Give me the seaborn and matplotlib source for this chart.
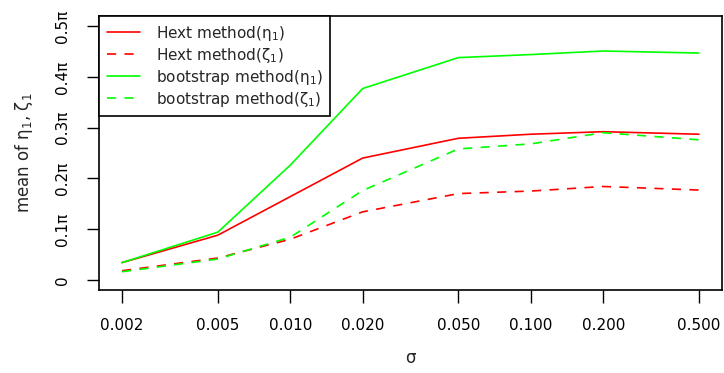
import matplotlib
matplotlib.use("Agg")
import matplotlib.pyplot as plt
import seaborn as sns
import numpy as np
import pandas as pd

# sigma values (x, log scale)
sigma = [0.002, 0.005, 0.010, 0.020, 0.050, 0.100, 0.200, 0.500]
sigma_labels = ["0.002", "0.005", "0.010", "0.020", "0.050", "0.100", "0.200", "0.500"]

# means, in units of pi
hext_eta = [0.034, 0.088, 0.164, 0.240, 0.279, 0.287, 0.292, 0.287]
hext_zeta = [0.018, 0.043, 0.080, 0.134, 0.170, 0.175, 0.184, 0.177]
boot_eta = [0.034, 0.094, 0.226, 0.377, 0.438, 0.444, 0.451, 0.447]
boot_zeta = [0.016, 0.041, 0.084, 0.176, 0.258, 0.268, 0.290, 0.276]

y_ticks = [0, 0.1, 0.2, 0.3, 0.4, 0.5]
y_labels = ["0", "0.1π", "0.2π", "0.3π", "0.4π", "0.5π"]

sns.set_style("white")
plt.rcParams["font.family"] = ["DejaVu Sans"]
plt.rcParams["mathtext.fontset"] = "dejavusans"
plt.rcParams["mathtext.default"] = "regular"

fig = plt.figure(figsize=(7.24, 3.73), dpi=100)
ax = fig.add_axes([99 / 724, 83 / 373, 623 / 724, 274 / 373])

df = pd.DataFrame({"sigma": sigma, "hext_eta": hext_eta, "hext_zeta": hext_zeta,
                   "boot_eta": boot_eta, "boot_zeta": boot_zeta})

series = [
    ("hext_eta", "Hext method($\\eta_1$)", "#ff0000", "-"),
    ("hext_zeta", "Hext method($\\zeta_1$)", "#ff0000", "--"),
    ("boot_eta", "bootstrap method($\\eta_1$)", "#00ff00", "-"),
    ("boot_zeta", "bootstrap method($\\zeta_1$)", "#00ff00", "--"),
]
for col, label, color, ls in series:
    sns.lineplot(data=df, x="sigma", y=col, ax=ax, color=color, label=label,
                 linewidth=1.2)
    if ls == "--":
        ax.lines[-1].set_dashes((5.5, 5))

ax.set_xscale("log")
lo, hi = np.log10(sigma[0]), np.log10(sigma[-1])
span = hi - lo
ax.set_xlim(10 ** (lo - 0.04 * span), 10 ** (hi + 0.04 * span))
ax.set_ylim(-0.02, 0.52)

ax.set_xticks(sigma)
ax.set_xticklabels(sigma_labels)
ax.xaxis.set_minor_locator(matplotlib.ticker.NullLocator())
ax.set_yticks(y_ticks)
ax.set_yticklabels(y_labels, rotation=90, va="center")

ax.tick_params(axis="both", which="major", direction="out", length=9, width=1,
               color="black", labelsize=11, labelcolor="black")
ax.tick_params(axis="x", pad=11)
ax.tick_params(axis="y", pad=12)
ax.xaxis.set_ticks_position("bottom")
ax.yaxis.set_ticks_position("left")

for sp in ax.spines.values():
    sp.set_visible(True)
    sp.set_color("black")
    sp.set_linewidth(1.2)

ax.set_xlabel("σ", fontsize=12, labelpad=12)
ax.set_ylabel("mean of $\\eta_1$, $\\zeta_1$", fontsize=12, labelpad=14)

leg = ax.legend(loc="upper left", borderaxespad=0, fancybox=False, framealpha=1,
                edgecolor="black", fontsize=11, handlelength=2.2, handletextpad=1.0,
                labelspacing=0.2, borderpad=0.5)
leg.get_frame().set_linewidth(1.2)

fig.savefig("out.png", dpi=100)
